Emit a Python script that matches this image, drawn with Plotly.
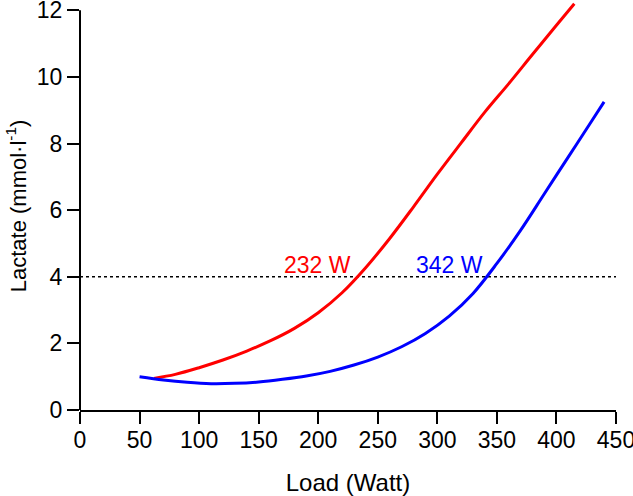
import plotly.graph_objects as go

# Data
red_load = [62, 80, 100, 120, 140, 160, 180, 200, 220, 240, 260, 280, 300, 320, 340, 360, 380, 400, 415]
red_lactate = [0.95, 1.07, 1.27, 1.5, 1.77, 2.08, 2.45, 2.92, 3.52, 4.28, 5.15, 6.1, 7.08, 8.02, 8.95, 9.8, 10.68, 11.55, 12.2]

blue_load = [50, 70, 90, 110, 130, 150, 170, 190, 210, 230, 250, 270, 290, 310, 330, 350, 370, 390, 410, 430, 440]
blue_lactate = [1.0, 0.9, 0.83, 0.79, 0.8, 0.84, 0.92, 1.02, 1.16, 1.35, 1.59, 1.9, 2.3, 2.82, 3.5, 4.4, 5.4, 6.5, 7.6, 8.7, 9.25]

threshold_x = [0, 450]
threshold_y = [4, 4]

red_threshold_load = 232
blue_threshold_load = 342
red_label = "232 W"
blue_label = "342 W"

x_ticks = [0, 50, 100, 150, 200, 250, 300, 350, 400, 450]
y_ticks = [0, 2, 4, 6, 8, 10, 12]

FONT = "Liberation Sans, Arial, sans-serif"

fig = go.Figure()
fig.add_trace(go.Scatter(x=threshold_x, y=threshold_y, mode="lines",
                         line=dict(color="black", width=1.6, dash="dot"),
                         showlegend=False, hoverinfo="skip"))
fig.add_trace(go.Scatter(x=red_load, y=red_lactate, mode="lines",
                         line=dict(color="#ff0000", width=3, shape="spline", smoothing=1.0),
                         showlegend=False))
fig.add_trace(go.Scatter(x=blue_load, y=blue_lactate, mode="lines",
                         line=dict(color="#0000ff", width=3, shape="spline", smoothing=1.0),
                         showlegend=False))

fig.add_annotation(x=red_threshold_load, y=threshold_y[0], text=red_label, showarrow=False,
                   xanchor="right", yanchor="bottom", xshift=-3, yshift=-3,
                   font=dict(family=FONT, size=23, color="#ff0000"))
fig.add_annotation(x=blue_threshold_load, y=threshold_y[0], text=blue_label, showarrow=False,
                   xanchor="right", yanchor="bottom", xshift=-2, yshift=-3,
                   font=dict(family=FONT, size=23, color="#0000ff"))

# y axis line (drawn from 0 to 12 only)
fig.add_shape(type="line", xref="paper", yref="y", x0=0, x1=0, y0=y_ticks[0], y1=y_ticks[-1],
              line=dict(color="black", width=2))

fig.update_layout(
    width=633, height=496,
    margin=dict(l=80, r=17, t=2.4, b=86),
    plot_bgcolor="white", paper_bgcolor="white",
    font=dict(family=FONT, size=22, color="black"),
    xaxis=dict(range=[0, 450], tickvals=x_ticks, ticks="outside", ticklen=12, tickwidth=2,
               tickcolor="black", showline=True, linecolor="black", linewidth=2,
               showgrid=False, zeroline=False, automargin=False,
               ticklabelstandoff=-4, ticklabeloverflow="allow",
               title=dict(text="Load (Watt)", font=dict(size=24), standoff=23),
               tickfont=dict(size=23)),
    yaxis=dict(range=[0, 12.25], tickvals=y_ticks, ticks="outside", ticklen=12, tickwidth=2,
               tickcolor="black", showline=False,
               showgrid=False, zeroline=False, automargin=False,
               ticklabeloverflow="allow",
               title=dict(text="Lactate (mmol·l<sup>-1</sup>)", font=dict(size=22), standoff=4),
               tickfont=dict(size=23)),
)

fig.write_html("out.html", config={"displayModeBar": False},
               post_script="document.body.style.margin='0';document.body.style.overflow='hidden';")
